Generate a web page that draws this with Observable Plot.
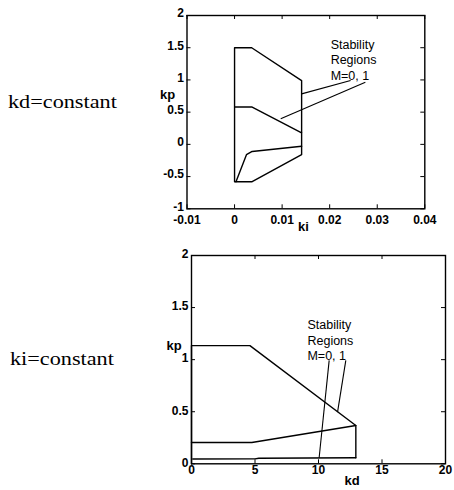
<!DOCTYPE html>
<html><head><meta charset="utf-8">
<script src="https://cdn.jsdelivr.net/npm/d3@7"></script>
<script src="https://cdn.jsdelivr.net/npm/@observablehq/plot@0.6"></script>
<style>
body{margin:0;background:#fff;}
#root{position:relative;width:454px;height:490px;overflow:hidden;background:#fff;}
.side{position:absolute;z-index:5;font-family:"Liberation Serif","Times New Roman",serif;font-size:19px;line-height:1;color:#000;transform:scaleX(1.17);transform-origin:left top;white-space:nowrap;}
.plot{position:absolute;left:0;z-index:1;}
</style></head><body><div id="root">
<div class="plot" id="p1" style="top:0px"></div>
<div class="plot" id="p2" style="top:240px"></div>
<div class="side" style="left:8px;top:92px">kd=constant</div>
<div class="side" style="left:10px;top:349px">ki=constant</div>
</div>
<script>
// ---- tick values and labels ----
const kiTicks = [-0.01, 0, 0.01, 0.02, 0.03, 0.04];
const kiTickLabels = ["-0.01", "0", "0.01", "0.02", "0.03", "0.04"];
const kpTicksTop = [-1, -0.5, 0, 0.5, 1, 1.5, 2];
const kpTickLabelsTop = ["-1", "-0.5", "0", "0.5", "1", "1.5", "2"];
const kdTicks = [0, 5, 10, 15, 20];
const kdTickLabels = ["0", "5", "10", "15", "20"];
const kpTicksBottom = [0, 0.5, 1, 1.5, 2];
const kpTickLabelsBottom = ["0", "0.5", "1", "1.5", "2"];

// ---- top chart (kd = constant): region boundaries in (ki, kp) ----
const topOuterKi = [0, 0, 0.0036, 0.0141, 0.0141, 0.0037, 0];
const topOuterKp = [-0.58, 1.5, 1.5, 0.99, -0.16, -0.58, -0.58];
const topMidKi = [0, 0.0036, 0.0141];
const topMidKp = [0.58, 0.58, 0.18];
const topLowKi = [0.0003, 0.0025, 0.0037, 0.0141];
const topLowKp = [-0.58, -0.16, -0.11, -0.03];
const topNoteText = ["Stability\nRegions\nM=0, 1"];
const topNoteKi = [0.0202];
const topNoteKp = [1.66];
const topPtrKi1 = [0.0244, 0.0275];
const topPtrKp1 = [0.99, 0.964];
const topPtrKi2 = [0.0141, 0.0097];
const topPtrKp2 = [0.784, 0.396];

// ---- bottom chart (ki = constant): region boundaries in (kd, kp) ----
const botOuterKd = [0, 0, 4.6, 12.94, 12.94];
const botOuterKp = [0, 1.135, 1.135, 0.368, 0.058];
const botMidKd = [0, 4.75, 12.94];
const botMidKp = [0.205, 0.205, 0.368];
const botLowKd = [0.1, 5.0, 5.3, 12.94];
const botLowKp = [0.046, 0.047, 0.053, 0.058];
const botNoteText = ["Stability\nRegions\nM=0, 1"];
const botNoteKd = [9.13];
const botNoteKp = [1.40];
const botPtrKd1 = [10.84, 12.15];
const botPtrKp1 = [0.993, 0.993];
const botPtrKd2 = [10.05, 11.5];
const botPtrKp2 = [0.058, 0.496];

const pts = (xs, ys) => xs.map((x, i) => ({x, y: ys[i]}));
const segs = (x1, y1, x2, y2) => x1.map((d, i) => ({x1: d, y1: y1[i], x2: x2[i], y2: y2[i]}));

const LW = 1.4;
const font = "'Liberation Sans', Arial, sans-serif";

function makeChart(cfg) {
  const fw = cfg.width - cfg.ml - cfg.mr;
  const fh = cfg.height - cfg.mt - cfg.mb;
  const TL = 4;
  return Plot.plot({
    width: cfg.width, height: cfg.height,
    marginLeft: cfg.ml, marginRight: cfg.mr, marginTop: cfg.mt, marginBottom: cfg.mb,
    x: {domain: cfg.xDomain, axis: null},
    y: {domain: cfg.yDomain, axis: null},
    style: {fontFamily: font, fontSize: "12px", color: "#000", background: "transparent", overflow: "visible"},
    marks: [
      // inward ticks on all four sides
      Plot.tickX(cfg.xTicks, {x: d => d, insetTop: fh - TL, stroke: "#000", strokeWidth: 1}),
      Plot.tickX(cfg.xTicks, {x: d => d, insetBottom: fh - TL, stroke: "#000", strokeWidth: 1}),
      Plot.tickY(cfg.yTicks, {y: d => d, insetRight: fw - TL, stroke: "#000", strokeWidth: 1}),
      Plot.tickY(cfg.yTicks, {y: d => d, insetLeft: fw - TL, stroke: "#000", strokeWidth: 1}),
      // tick labels
      Plot.axisX(cfg.xTicks, {anchor: "bottom", tickSize: 0, tickPadding: cfg.xPad, label: null,
        tickFormat: (d) => cfg.xLabels[cfg.xTicks.indexOf(d)], fontWeight: "bold", fill: "#000"}),
      Plot.axisY(cfg.yTicks, {anchor: "left", tickSize: 0, tickPadding: 3, label: null,
        tickFormat: (d) => cfg.yLabels[cfg.yTicks.indexOf(d)], fontWeight: "bold", fill: "#000", dy: cfg.yDy || 0}),
      // curves
      Plot.line(pts(cfg.outerX, cfg.outerY), {x: "x", y: "y", stroke: "#000", strokeWidth: LW}),
      Plot.line(pts(cfg.midX, cfg.midY), {x: "x", y: "y", stroke: "#000", strokeWidth: LW}),
      Plot.line(pts(cfg.lowX, cfg.lowY), {x: "x", y: "y", stroke: "#000", strokeWidth: LW}),
      // annotation
      Plot.text(cfg.noteText, {x: cfg.noteX, y: cfg.noteY, text: d => d, textAnchor: "start", lineAnchor: "top",
        lineHeight: 1.25, fontSize: 12.5, fill: "#000"}),
      Plot.link(segs(cfg.p1x, cfg.p1y, cfg.p2x, cfg.p2y), {x1: "x1", y1: "y1", x2: "x2", y2: "y2", stroke: "#000", strokeWidth: 1.1}),
      // axis titles
      Plot.text(["kp"], {frameAnchor: "top-left", dx: cfg.kpDx, dy: cfg.kpDy, text: d => d, fontWeight: "bold", fontSize: 13, fill: "#000"}),
      Plot.text([cfg.xTitle], {frameAnchor: "bottom-left", dx: cfg.xtDx, dy: cfg.xtDy, text: d => d, fontWeight: "bold", fontSize: 13, fill: "#000"}),
      Plot.frame({stroke: "#000", strokeWidth: 1.4})
    ]
  });
}

document.getElementById("p1").append(makeChart({
  width: 454, height: 235, ml: 186.5, mr: 29.7, mt: 15, mb: 26.7,
  xDomain: [-0.01, 0.04], yDomain: [-1, 2],
  xTicks: kiTicks, xLabels: kiTickLabels, yTicks: kpTicksTop, yLabels: kpTickLabelsTop, xPad: 7, yDy: -2,
  outerX: topOuterKi, outerY: topOuterKp, midX: topMidKi, midY: topMidKp, lowX: topLowKi, lowY: topLowKp,
  noteText: topNoteText, noteX: topNoteKi, noteY: topNoteKp,
  p1x: topPtrKi1, p1y: topPtrKp1, p2x: topPtrKi2, p2y: topPtrKp2,
  kpDx: -27, kpDy: 74, xTitle: "ki", xtDx: 111, xtDy: 22
}));

document.getElementById("p2").append(makeChart({
  width: 454, height: 250, ml: 191, mr: 9, mt: 15, mb: 26.7,
  xDomain: [0, 20], yDomain: [0, 2],
  xTicks: kdTicks, xLabels: kdTickLabels, yTicks: kpTicksBottom, yLabels: kpTickLabelsBottom, xPad: 2, yDy: -1,
  outerX: botOuterKd, outerY: botOuterKp, midX: botMidKd, midY: botMidKp, lowX: botLowKd, lowY: botLowKp,
  noteText: botNoteText, noteX: botNoteKd, noteY: botNoteKp,
  p1x: botPtrKd1, p1y: botPtrKp1, p2x: botPtrKd2, p2y: botPtrKp2,
  kpDx: -25, kpDy: 85, xTitle: "kd", xtDx: 153, xtDy: 21
}));
</script>
</body></html>
